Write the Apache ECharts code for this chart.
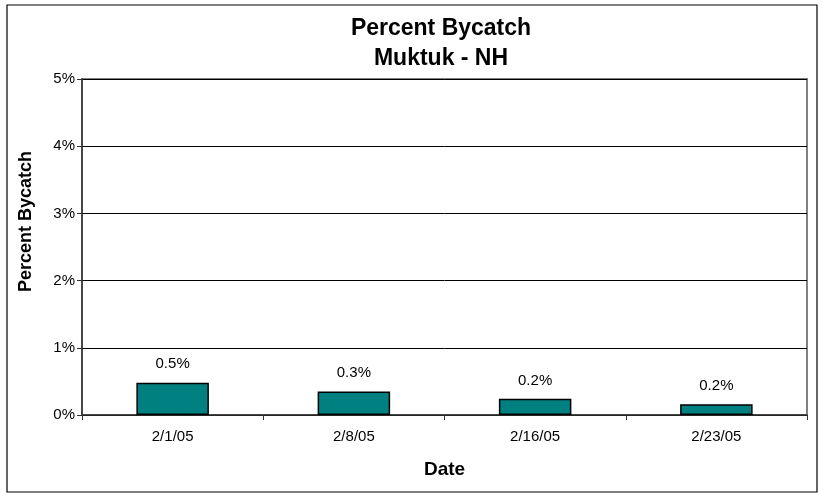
<!DOCTYPE html>
<html>
<head>
<meta charset="utf-8">
<script src="https://cdn.jsdelivr.net/npm/echarts@6/dist/echarts.min.js"></script>
<style>
html,body{margin:0;padding:0;background:#fff;}
#c{width:823px;height:497px;}
</style>
</head>
<body>
<div id="c"></div>
<script>
var titleLines = ['Percent Bycatch', 'Muktuk - NH'];
var categories = ['2/1/05', '2/8/05', '2/16/05', '2/23/05'];
var bycatchPct = [0.48, 0.35, 0.24, 0.16];
var yTicks = [0, 1, 2, 3, 4, 5];

var chart = echarts.init(document.getElementById('c'), null, {renderer: 'canvas'});
var F = '"Liberation Sans", Arial, sans-serif';
chart.setOption({
  backgroundColor: '#fff',
  animation: false,
  title: {
    text: titleLines.join('\n'),
    left: 436, top: 9, textAlign: 'center',
    textStyle: {fontFamily: F, fontSize: 23, fontWeight: 'bold', color: '#000', lineHeight: 30}
  },
  graphic: [{
    type: 'rect', shape: {x: 7, y: 5, width: 810, height: 487},
    style: {fill: null, stroke: '#000', lineWidth: 1.2}, silent: true
  }, {
    type: 'rect', shape: {x: 82, y: 79, width: 725, height: 336},
    style: {fill: null, stroke: '#808080', lineWidth: 2}, silent: true, z: 0
  }],
  grid: {left: 82, right: 16, top: 79, bottom: 82, containLabel: false},
  xAxis: {
    type: 'category', data: categories,
    name: 'Date', nameLocation: 'middle', nameGap: 45,
    nameTextStyle: {fontFamily: F, fontSize: 19, fontWeight: 'bold', color: '#000'},
    axisLine: {lineStyle: {color: '#333', width: 1.5}},
    axisTick: {show: true, length: 5, lineStyle: {color: '#333'}},
    axisLabel: {fontFamily: F, fontSize: 15, color: '#000', margin: 14}
  },
  yAxis: {
    type: 'value', min: 0, max: 5, interval: 1,
    name: 'Percent Bycatch', nameLocation: 'middle', nameGap: 47,
    nameTextStyle: {fontFamily: F, fontSize: 18, fontWeight: 'bold', color: '#000', padding: [0, 0, 0, 51]},
    axisLine: {show: true, lineStyle: {color: '#333', width: 1.5}},
    axisTick: {show: true, length: 5, lineStyle: {color: '#333'}},
    axisLabel: {fontFamily: F, fontSize: 15, color: '#000', margin: 7,
      formatter: function (v) { return yTicks.indexOf(v) >= 0 ? v + '%' : ''; }},
    splitLine: {show: true, lineStyle: {color: '#000', width: 1}}
  },
  series: [{
    type: 'bar', data: bycatchPct, barWidth: '40%',
    itemStyle: {color: '#008080', borderColor: '#000', borderWidth: 1.5},
    label: {show: true, position: 'top', distance: 11, fontFamily: F, fontSize: 15, color: '#000',
      formatter: function (p) { return p.value.toFixed(1) + '%'; }}
  }]
});
</script>
</body>
</html>
